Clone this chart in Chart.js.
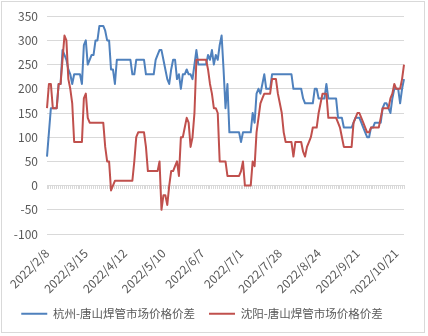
<!DOCTYPE html>
<html>
<head>
<meta charset="utf-8">
<script src="https://cdn.jsdelivr.net/npm/chart.js@4.4.1/dist/chart.umd.min.js"></script>
<style>
    html, body { margin: 0; padding: 0; background: #ffffff; }
    #wrap { position: relative; width: 428px; height: 336px; }
    #frame {
        position: absolute; left: 1px; top: 1px; width: 424px; height: 332px;
        box-sizing: border-box; border: 1px solid #d9d9d9; pointer-events: none;
    }
</style>
</head>
<body>
<div id="wrap">
    <canvas id="chart" width="428" height="336"></canvas>
    <div id="frame"></div>
</div>
<script>
// date labels shown along the bottom, one every 20 trading days
const tickDates = ["2022/2/8", "2022/3/15", "2022/4/12", "2022/5/10", "2022/6/7",
    "2022/7/1", "2022/7/28", "2022/8/24", "2022/9/21", "2022/10/21"];
const labelStep = 20;

// 杭州-唐山 spread, yuan/t
const hangzhou = [
    60, 110, 160, 160, 160, 160, 210, 210, 280, 270,
    260, 240, 230, 210, 230, 230, 230, 230, 210, 290,
    300, 250, 260, 270, 270, 300, 300, 330, 330, 330,
    320, 300, 300, 240, 240, 210, 260, 260, 260, 260,
    260, 260, 260, 260, 230, 230, 260, 260, 260, 260,
    260, 230, 230, 230, 230, 230, 260, 270, 280, 280,
    260, 240, 220, 210, 240, 260, 260, 220, 230, 200,
    230, 230, 240, 230, 230, 220, 250, 280, 250, 250,
    250, 250, 250, 270, 260, 280, 250, 270, 260, 290,
    310, 240, 160, 210, 110, 110, 110, 110, 110, 110,
    90, 110, 110, 110, 110, 110, 150, 130, 190, 200,
    190, 210, 230, 200, 200, 200, 230, 230, 230, 230,
    230, 230, 230, 230, 230, 230, 230, 200, 200, 200,
    200, 200, 180, 170, 170, 170, 170, 170, 200, 200,
    180, 180, 180, 180, 210, 180, 180, 180, 180, 180,
    140, 140, 140, 120, 120, 120, 120, 120, 130, 140,
    140, 140, 130, 120, 110, 100, 100, 120, 120, 130,
    130, 130, 130, 160, 170, 170, 160, 150, 180, 200,
    200, 200, 170, 200, 220
];

// 沈阳-唐山 spread, yuan/t
const shenyang = [
    160, 210, 210, 160, 160, 160, 210, 210, 260, 310,
    300, 220, 200, 170, 90, 90, 90, 90, 90, 180,
    190, 140, 130, 130, 130, 130, 130, 130, 130, 130,
    80, 50, 50, -10, 0, 10, 10, 10, 10, 10,
    10, 10, 10, 10, 10, 50, 100, 110, 110, 110,
    110, 80, 30, 30, 30, 30, 30, 30, 50, -50,
    -20, -20, -40, 0, 30, 30, 40, 50, 20, 100,
    100, 120, 140, 130, 80, 100, 150, 260, 260, 260,
    260, 260, 260, 240, 210, 190, 160, 160, 150, 50,
    50, 50, 50, 20, 20, 20, 20, 20, 20, 20,
    30, 50, 0, 0, 0, 0, 50, 40, 110, 140,
    170, 180, 190, 190, 190, 190, 220, 220, 220, 190,
    170, 150, 110, 90, 90, 90, 90, 60, 90, 90,
    90, 90, 70, 60, 80, 90, 100, 120, 120, 120,
    150, 170, 190, 190, 190, 140, 140, 140, 140, 140,
    130, 120, 100, 80, 80, 80, 80, 80, 130, 140,
    150, 150, 140, 130, 120, 110, 110, 120, 120, 120,
    120, 120, 140, 160, 160, 160, 160, 180, 190, 210,
    200, 200, 200, 220, 250
];

const categories = hangzhou.map((v, i) => (i % labelStep === 0 ? tickDates[i / labelStep] : ""));

const textColor = "#595959";
const gridColor = "#d9d9d9";
const tickFont = { family: "'Noto Sans CJK SC', 'Liberation Sans', sans-serif", size: 12 };

const ctx = document.getElementById("chart").getContext("2d");
const chart = new Chart(ctx, {
    type: "line",
    data: {
        labels: categories,
        datasets: [{
            label: "杭州-唐山焊管市场价格价差",
            data: hangzhou,
            borderColor: "#4f81bd",
            backgroundColor: "#4f81bd",
            borderWidth: 2,
            pointRadius: 0,
            borderJoinStyle: "round",
            order: 0
        }, {
            label: "沈阳-唐山焊管市场价格价差",
            data: shenyang,
            borderColor: "#c0504d",
            backgroundColor: "#c0504d",
            borderWidth: 2,
            pointRadius: 0,
            borderJoinStyle: "round",
            order: -1
        }]
    },
    options: {
        responsive: false,
        animation: false,
        layout: { padding: { top: 16, right: 24, bottom: 6.5, left: 0 } },
        plugins: {
            tooltip: { enabled: false },
            legend: {
                position: "bottom",
                labels: {
                    usePointStyle: true,
                    pointStyle: "line",
                    pointStyleWidth: 26,
                    padding: 14,
                    color: textColor,
                    font: { family: "'Noto Sans CJK SC', sans-serif", size: 11.5 },
                    sort: (a, b) => a.datasetIndex - b.datasetIndex
                }
            }
        },
        scales: {
            x: {
                type: "category",
                offset: false,
                grid: { display: false },
                border: { display: false },
                ticks: {
                    autoSkip: false,
                    minRotation: 45,
                    maxRotation: 45,
                    padding: 4,
                    color: textColor,
                    font: tickFont
                },
                afterFit: function (scale) { scale.height = 60; }
            },
            // horizontal axis line with tick marks, crossing at 0
            zero: {
                type: "category",
                axis: "x",
                position: { y: 0 },
                offset: false,
                grid: { drawOnChartArea: false, drawTicks: true, tickLength: 3, color: gridColor },
                border: { display: true, color: gridColor },
                ticks: { display: false, autoSkip: false }
            },
            y: {
                min: -100,
                max: 350,
                ticks: { stepSize: 50, padding: 9, color: textColor, font: tickFont },
                grid: { color: gridColor, drawTicks: false },
                border: { display: false },
                afterFit: function (scale) { scale.width = 47; }
            }
        }
    }
});
</script>
</body>
</html>
